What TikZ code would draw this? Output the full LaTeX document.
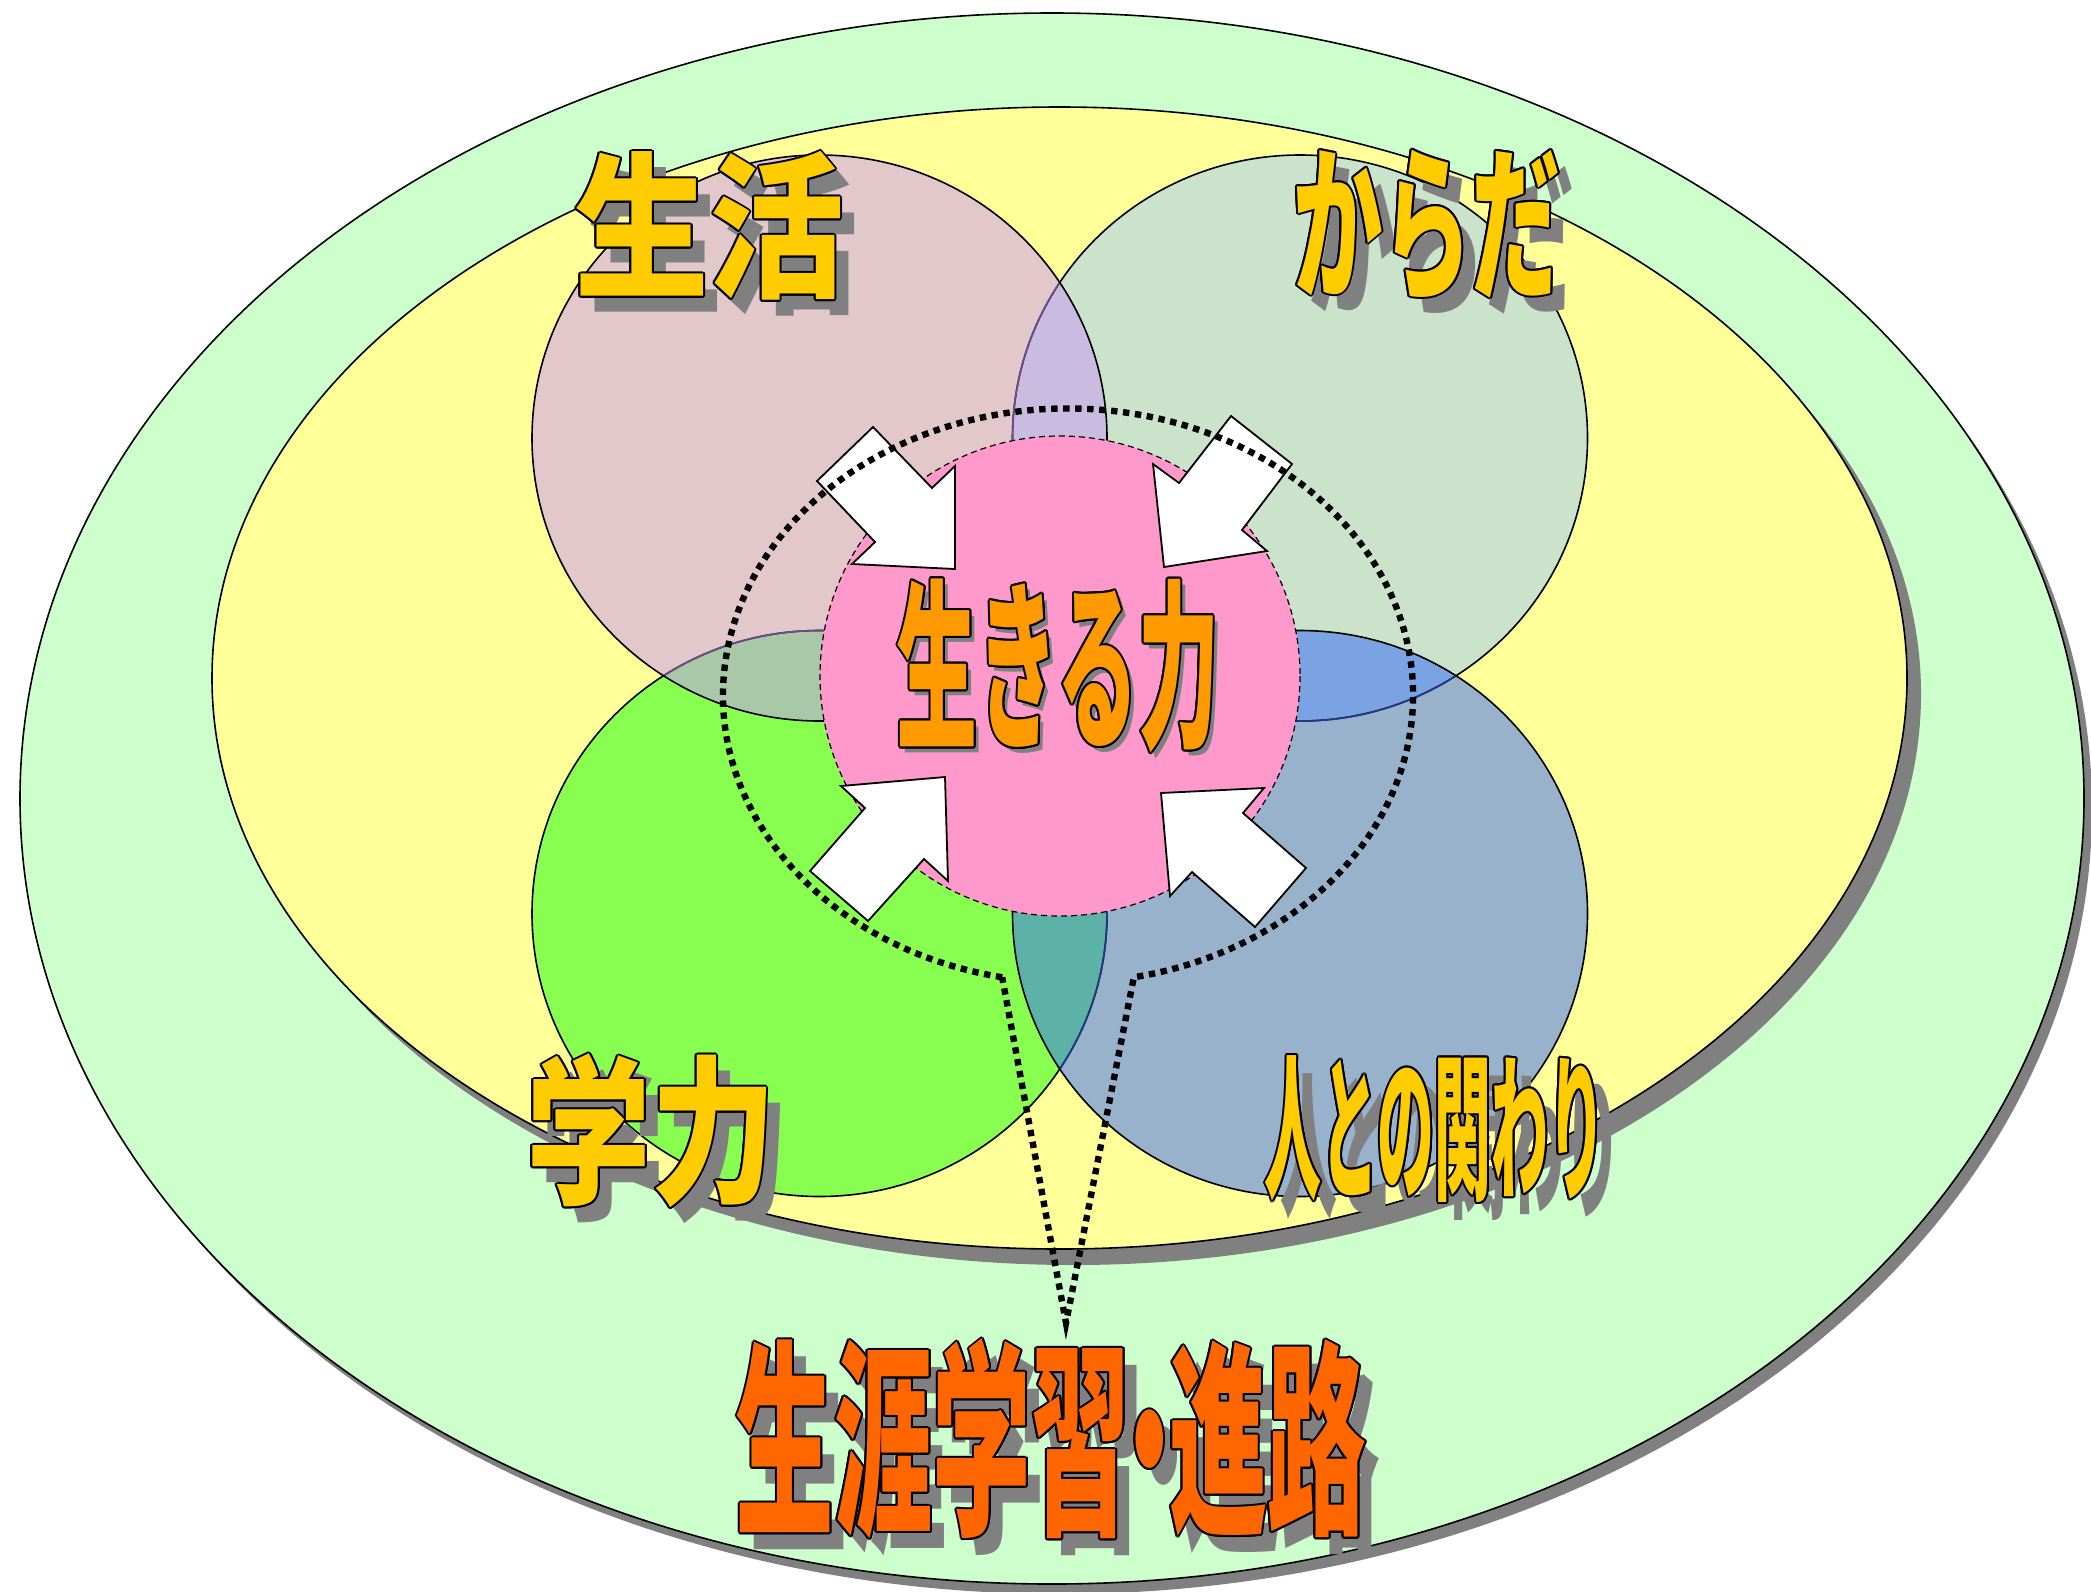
\documentclass[tikz,border=0pt]{standalone}
\usepackage{fontspec}
\newfontfamily\jp{Noto Sans CJK JP}
\usetikzlibrary{calc}
\definecolor{cgreen}{HTML}{CCFFCC}
\definecolor{cyellow}{HTML}{FFFF99}
\definecolor{cTL}{HTML}{E3C8CB}
\definecolor{cTR}{HTML}{CCE3CB}
\definecolor{cBL}{HTML}{88FF50}
\definecolor{cBR}{HTML}{98B2CB}
\definecolor{lTop}{HTML}{CABCE0}
\definecolor{lLeft}{HTML}{A8C8A8}
\definecolor{lRight}{HTML}{7BA2E2}
\definecolor{lBot}{HTML}{5CB2A6}
\definecolor{cpink}{HTML}{FF99CC}
\definecolor{tyellow}{HTML}{FFCC00}
\definecolor{torange}{HTML}{FF9900}
\definecolor{tred}{HTML}{FF6600}
\definecolor{shgray}{HTML}{808080}
\definecolor{tintP}{HTML}{6A5090}
\definecolor{tintN}{HTML}{1F3A8A}
\newcommand\wafont{\jp\bfseries\fontsize{50pt}{50pt}\selectfont}
% name, x, y, sx, sy, colour, text, shadow dx, shadow dy
\newcommand\wart[9]{%
  \node[wa,text=shgray] (#1s) at (#2+#8,#3+#9) {\scalebox{#4}[#5]{\wafont #7}};
  \foreach \a in {0,30,...,330}{\node[wa,text=black,shift={(\a:1pt)}] (#1o\a) at (#2,#3) {\scalebox{#4}[#5]{\wafont #7}};}
  \node[wa,text=#6] (#1) at (#2,#3) {\scalebox{#4}[#5]{\wafont #7}};
}
\begin{document}
\begin{tikzpicture}[x=0.5pt,y=-0.5pt,
  wa/.style={inner sep=0pt,outer sep=0pt},
  ring/.style={draw=black,line width=0.8pt},
  arrowsty/.style={fill=white,draw=black,line width=0.9pt,line join=miter},
  dotsty/.style={draw=black,line width=3.2pt,dash pattern=on 3.2pt off 2.8pt},
  dashsty/.style={draw=black,line width=0.6pt,dash pattern=on 3pt off 2pt}]
\useasboundingbox (0,0) rectangle (2091,1591);
\fill[white] (0,0) rectangle (2091,1591);
% centres
\coordinate (g) at (1052,798.5);
\coordinate (y) at (1059.5,678);
\coordinate (tl) at (819.5,438);
\coordinate (tr) at (1300,438);
\coordinate (bl) at (819.5,913.5);
\coordinate (br) at (1300,913.5);
\coordinate (pk) at (1060,676);
\coordinate (cc) at (1068,695.5);
\coordinate (tip) at (1066,1323);
% outer green ellipse with shadow
\fill[shgray] ([shift={(8,10)}]g) ellipse [x radius=1032, y radius=785.5];
\filldraw[fill=cgreen,ring] (g) ellipse [x radius=1032, y radius=785.5];
% yellow ellipse with shadow
\fill[shgray] ([shift={(14,16)}]y) ellipse [x radius=847.5, y radius=571];
\filldraw[fill=cyellow,ring] (y) ellipse [x radius=847.5, y radius=571];
% four circles
\fill[cTL] (tl) ellipse [x radius=287.5, y radius=283];
\fill[cTR] (tr) ellipse [x radius=287.5, y radius=283];
\fill[cBL] (bl) ellipse [x radius=287.5, y radius=283];
\fill[cBR] (br) ellipse [x radius=287.5, y radius=283];
% lenses
\begin{scope}\clip (tl) ellipse [x radius=287.5, y radius=283];
  \fill[lTop] (tr) ellipse [x radius=287.5, y radius=283];
  \fill[lLeft] (bl) ellipse [x radius=287.5, y radius=283];
\end{scope}
\begin{scope}\clip (br) ellipse [x radius=287.5, y radius=283];
  \fill[lRight] (tr) ellipse [x radius=287.5, y radius=283];
  \fill[lBot] (bl) ellipse [x radius=287.5, y radius=283];
\end{scope}
% outlines
\draw[ring] (tr) ellipse [x radius=287.5, y radius=283];
\draw[ring] (bl) ellipse [x radius=287.5, y radius=283];
\begin{scope}\clip (tl) ellipse [x radius=287.5, y radius=283];
  \draw[ring,draw=tintP] (tr) ellipse [x radius=287.5, y radius=283];
  \draw[ring,draw=tintP] (bl) ellipse [x radius=287.5, y radius=283];
\end{scope}
\begin{scope}\clip (br) ellipse [x radius=287.5, y radius=283];
  \draw[ring,draw=tintN] (tr) ellipse [x radius=287.5, y radius=283];
  \draw[ring,draw=tintN] (bl) ellipse [x radius=287.5, y radius=283];
\end{scope}
\draw[ring] (tl) ellipse [x radius=287.5, y radius=283];
\draw[ring] (br) ellipse [x radius=287.5, y radius=283];
% central pink circle
\fill[cpink] (pk) circle [radius=240];
\draw[dashsty] (pk) circle [radius=240];
% arrows
\draw[arrowsty] (817,481) -- (873,427) -- (932,488) -- (955,466) -- (955,569) -- (852,564) -- (875,542) -- cycle;
\draw[arrowsty] (1231,416) -- (1292,464) -- (1242,530) -- (1267,551) -- (1164,567) -- (1153,464) -- (1179,483) -- cycle;
\draw[arrowsty] (810,871) -- (868,921) -- (924,859) -- (948,881) -- (945,777) -- (841,786) -- (865,808) -- cycle;
\draw[arrowsty] (1306,868) -- (1255,927) -- (1192,872) -- (1170,896) -- (1161,793) -- (1264,788) -- (1243,813) -- cycle;
% dotted callout
\draw[dotsty] ($(cc)+(101:345 and 287)$) arc [start angle=101, end angle=439, x radius=345, y radius=287] -- (tip) -- cycle;
% labels
\wart{seikatsu}{709}{226}{1.347}{1.567}{tyellow}{生活}{14}{16}
\wart{karada}{1427}{226}{0.893}{1.67}{tyellow}{からだ}{14}{16}
\wart{gakuryoku}{651}{1131}{1.247}{1.6}{tyellow}{学力}{14}{16}
\wart{hito}{1435}{1129}{0.568}{1.58}{tyellow}{人との関わり}{16}{18}
\wart{ikiru}{1058}{666}{0.81}{1.82}{torange}{生きる力}{5}{6}
\wart{shogai}{1051}{1439}{0.985}{2.09}{tred}{生涯学習\kern-0.3em・\kern-0.3em進路}{14}{17}
\end{tikzpicture}
\end{document}
